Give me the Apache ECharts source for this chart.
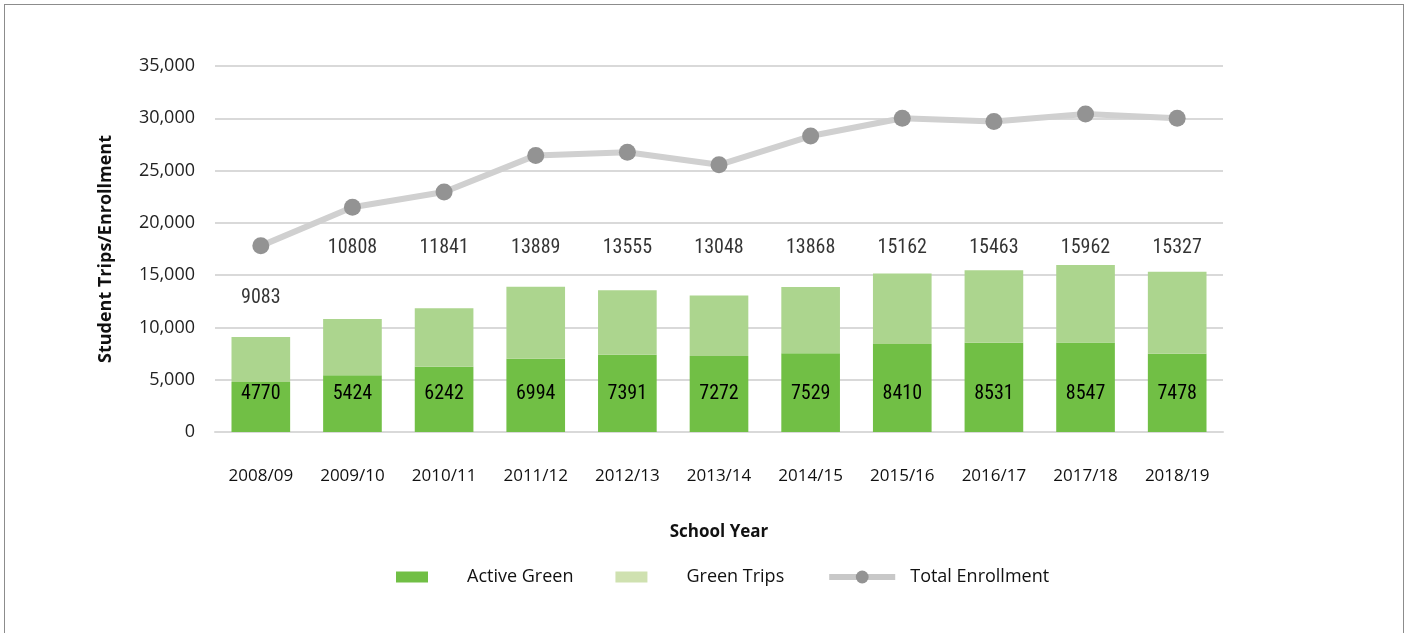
<!DOCTYPE html>
<html>
<head>
<meta charset="utf-8">
<title>Student Trips / Enrollment</title>
<script src="https://cdn.jsdelivr.net/npm/echarts@6/dist/echarts.min.js"></script>
<style>
  html, body { margin: 0; padding: 0; background: #fff; overflow: hidden; }
  #chart {
    position: absolute; left: 4px; top: 4px;
    width: 1400px; height: 640px;
    box-sizing: border-box; border: 1px solid #8c8c8c;
  }
</style>
</head>
<body>
<div id="chart"></div>
<script>
// school years
const years = ['2008/09', '2009/10', '2010/11', '2011/12', '2012/13', '2013/14',
  '2014/15', '2015/16', '2016/17', '2017/18', '2018/19']
// total green trips (label above bars)
const greenTotal = [9083, 10808, 11841, 13889, 13555, 13048, 13868, 15162, 15463, 15962, 15327]
// active green part
const activeGreen = [4770, 5424, 6242, 6994, 7391, 7272, 7529, 8410, 8531, 8547, 7478]
// total enrollment
const enrollment = [17800, 21500, 22950, 26450, 26750, 25550, 28300, 30000, 29700, 30400, 30000]
const yTicks = [0, 5000, 10000, 15000, 20000, 25000, 30000, 35000]

const numFont = "'Roboto Condensed', Roboto, sans-serif"
const txtFont = "'Open Sans', 'Noto Sans', sans-serif"

// green trips = rest of the stacked bar
const greenTrips = greenTotal.map((t, i) => t - activeGreen[i])

const chart = echarts.init(document.getElementById('chart'))

chart.setOption({
  animation: false,
  grid: { left: 210, right: 180, top: 61, bottom: 211 },
  legend: {
    left: 386,
    top: 558,
    itemWidth: 66,
    itemHeight: 16,
    itemGap: 42,
    textStyle: { fontFamily: txtFont, fontSize: 18, color: '#111' },
    data: [
      { name: 'Active Green', icon: 'path://M0,0M66,16M0,2.5H32V13.5H0Z' },
      { name: 'Green Trips', icon: 'path://M0,0M66,16M0,2.5H32V13.5H0Z', itemStyle: { color: '#cfe1b0' } },
      {
        name: 'Total Enrollment',
        lineStyle: { width: 6, color: '#c8c8c8' },
        textStyle: { padding: [0, 0, 0, 10] }
      }
    ]
  },
  xAxis: {
    type: 'category',
    data: years,
    name: 'School Year',
    nameLocation: 'middle',
    nameGap: 92,
    nameTextStyle: { fontFamily: txtFont, fontSize: 17, fontWeight: 'bold', color: '#111' },
    axisLine: { show: true, lineStyle: { color: '#d9d9d9', width: 2 } },
    axisTick: { show: false },
    axisLabel: { fontFamily: txtFont, fontSize: 17, color: '#111', margin: 36 }
  },
  yAxis: {
    type: 'value',
    min: 0,
    max: 35000,
    interval: 5000,
    name: 'Student Trips/Enrollment',
    nameLocation: 'middle',
    nameGap: 100,
    nameTextStyle: { fontFamily: txtFont, fontSize: 18, fontWeight: 'bold', color: '#111' },
    axisLine: { show: false },
    axisTick: { show: false },
    axisLabel: {
      fontFamily: txtFont, fontSize: 18, color: '#222', margin: 20,
      formatter: v => yTicks.includes(v) ? v.toLocaleString('en-US') : ''
    },
    splitLine: { lineStyle: { color: '#d9d9d9', width: 2 } }
  },
  series: [
    {
      name: 'Active Green',
      type: 'bar',
      stack: 'trips',
      barWidth: '64%',
      data: activeGreen,
      itemStyle: { color: '#71bf45' },
      label: {
        show: true,
        position: 'insideBottom',
        distance: 28,
        fontFamily: numFont,
        fontSize: 20,
        color: '#000'
      }
    },
    {
      name: 'Green Trips',
      type: 'bar',
      stack: 'trips',
      data: greenTrips,
      itemStyle: { color: '#acd58e' }
    },
    {
      name: 'Total Enrollment',
      type: 'line',
      data: enrollment,
      symbol: 'circle',
      symbolSize: 17,
      lineStyle: { color: '#d0d0d0', width: 6 },
      itemStyle: { color: '#939393' },
      z: 3
    },
    {
      // labels for the bar totals, set in a row like the original
      name: 'totals',
      type: 'scatter',
      symbolSize: 0,
      silent: true,
      data: greenTotal.map((t, i) => ({ value: [i, i === 0 ? 12800 : 17600], total: t })),
      label: {
        show: true,
        position: 'inside',
        fontFamily: numFont,
        fontSize: 20,
        color: '#000',
        formatter: p => p.data.total
      }
    }
  ]
})
</script>
</body>
</html>
